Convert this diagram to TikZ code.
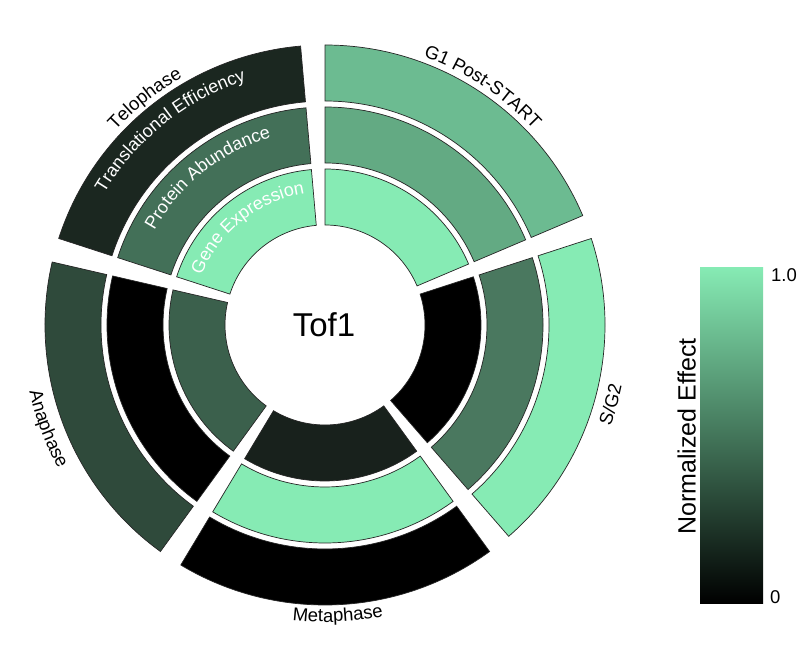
\documentclass[tikz,border=0pt]{standalone}
\usepackage{fontspec}
\setmainfont{Liberation Sans}
\usetikzlibrary{decorations.text}
\definecolor{mint}{HTML}{86EBB4}
\definecolor{gA}{RGB}{108,187,145}
\definecolor{gB}{RGB}{99,170,131}
\definecolor{sB}{RGB}{74,120,95}
\definecolor{tA}{RGB}{27,39,32}
\definecolor{tB}{RGB}{67,112,88}
\definecolor{aA}{RGB}{47,74,59}
\definecolor{aC}{RGB}{59,96,76}
\definecolor{mC}{RGB}{24,33,28}
\tikzset{
  segline/.style={draw=black!85, line width=0.7pt, line join=miter},
  outlbl/.style={decorate, decoration={text along path, text align=center, text color=black}},
  inlbl/.style={decorate, decoration={text along path, text align=center, text color=white}}
}
\newcommand\sunseg[5]{%
  \filldraw[fill=#5, segline] (#1:#3) arc[start angle=#1, end angle=#2, radius=#3]
    -- (#2:#4) arc[start angle=#2, end angle=#1, radius=#4] -- cycle;}
\begin{document}
\begin{tikzpicture}[x=1pt,y=1pt]
\useasboundingbox (0,0) rectangle (800,650);
\fill[white] (0,0) rectangle (800,650);
\begin{scope}[shift={(325,325)}]
  % G1 Post-START
  \sunseg{90}{23}{100}{156}{mint}
  \sunseg{90}{23}{162}{218}{gB}
  \sunseg{90}{23}{224}{280}{gA}
  % S/G2
  \sunseg{18}{-49}{100}{156}{black}
  \sunseg{18}{-49}{162}{218}{sB}
  \sunseg{18}{-49}{224}{280}{mint}
  % Metaphase
  \sunseg{-54}{-121}{100}{156}{mC}
  \sunseg{-54}{-121}{162}{218}{mint}
  \sunseg{-54}{-121}{224}{280}{black}
  % Anaphase
  \sunseg{-126}{-193}{100}{156}{aC}
  \sunseg{-126}{-193}{162}{218}{black}
  \sunseg{-126}{-193}{224}{280}{aA}
  % Telophase
  \sunseg{162}{95}{100}{156}{mint}
  \sunseg{162}{95}{162}{218}{tB}
  \sunseg{162}{95}{224}{280}{tA}
  % ring labels
  \path[inlbl, decoration={text={|\fontsize{18}{18}\selectfont|Gene Expression}}]
    (162:133) arc[start angle=162, end angle=95, radius=133];
  \path[inlbl, decoration={text={|\fontsize{18}{18}\selectfont|Protein Abundance}}]
    (162:195) arc[start angle=162, end angle=95, radius=195];
  \path[inlbl, decoration={text={|\fontsize{18}{18}\selectfont|Translational Efficiency}}]
    (162:257) arc[start angle=162, end angle=95, radius=257];
  % phase labels
  \path[outlbl, decoration={text={|\fontsize{18.5}{18.5}\selectfont|G1 Post-START}}]
    (90:286) arc[start angle=90, end angle=23, radius=286];
  \path[outlbl, decoration={text={|\fontsize{18.5}{18.5}\selectfont|Telophase}}]
    (162:286) arc[start angle=162, end angle=95, radius=286];
  \path[outlbl, decoration={text={|\fontsize{18.5}{18.5}\selectfont|S/G2}}]
    (-49:303) arc[start angle=-49, end angle=18, radius=303];
  \path[outlbl, decoration={text={|\fontsize{18.5}{18.5}\selectfont|Metaphase}}]
    (-121:297) arc[start angle=-121, end angle=-54, radius=297];
  \path[outlbl, decoration={text={|\fontsize{18.5}{18.5}\selectfont|Anaphase}}]
    (-193:303) arc[start angle=-193, end angle=-126, radius=303];
  \node[font=\fontsize{33}{33}\selectfont] (center) at (-1,0) {Tof1};
\end{scope}
% colour bar
\shade[bottom color=black, top color=mint] (700,46.7) rectangle (763,382.7);
\node[anchor=base west, font=\fontsize{18.5}{18.5}\selectfont, inner sep=0] (hi) at (771,368.3) {1.0};
\node[anchor=base west, font=\fontsize{18.5}{18.5}\selectfont, inner sep=0] (lo) at (770,46.7) {0};
\node[rotate=90, anchor=base, inner sep=0, font=\fontsize{25}{25}\selectfont] (cbl) at (695.5,213.5) {Normalized Effect};
\end{tikzpicture}
\end{document}
